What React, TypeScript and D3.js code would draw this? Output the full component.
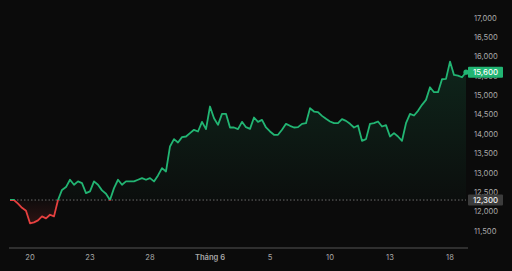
import React from "react";
import * as d3 from "d3";

const prices: number[] = [
  12300, 12300, 12205, 12100, 12024, 11700, 11723, 11775, 11878, 11827,
  11920, 11878, 12300, 12560, 12634, 12823, 12695, 12780, 12737, 12480,
  12523, 12780, 12695, 12549, 12463, 12300, 12608, 12823, 12695, 12780,
  12780, 12780, 12823, 12866, 12823, 12866, 12780, 12935, 13124, 13038,
  13683, 13872, 13786, 13923, 13940, 14027, 14113, 14070, 14319, 14130,
  14714, 14413, 14241, 14525, 14525, 14173, 14173, 14130, 14319, 14181,
  14138, 14430, 14319, 14370, 14173, 14070, 13984, 13984, 14113, 14267,
  14216, 14173, 14181, 14267, 14284, 14671, 14585, 14568, 14473, 14396,
  14327, 14284, 14284, 14387, 14344, 14267, 14173, 14224, 13829, 13872,
  14267, 14284, 14327, 14198, 14233, 13940, 14027, 13940, 13829, 14284,
  14525, 14482, 14602, 14757, 14886, 15212, 15084, 15084, 15419, 15427,
  15874, 15530, 15513, 15470, 15600,
];
const baseline = 12300;
const yTicks: number[] = [11500, 12000, 12500, 13000, 13500, 14000, 14500, 15000, 15500, 16000, 16500, 17000];
const xTickIdx: number[] = [5, 20, 35, 50, 65, 80, 95, 110];
const xTickLabels: string[] = ["20", "23", "28", "Tháng 6", "5", "10", "13", "18"];

const W = 512, H = 271;
const GREEN = "#22b573";
const RED = "#e5403f";
const FONT = "Inter, 'Noto Sans', sans-serif";

export default function App() {
  const x = d3.scaleLinear().domain([0, prices.length - 1]).range([10, 466]);
  const y = d3.scaleLinear().domain([11500, 17000]).range([231, 18]);
  const yb = y(baseline);
  const line = d3.line<number>().x((_, i) => x(i)).y((d) => y(d));
  const area = d3.area<number>().x((_, i) => x(i)).y0(yb).y1((d) => y(d));
  const last = prices[prices.length - 1];
  const fmt = d3.format(",");
  const x0 = x(0), x1 = x(prices.length - 1);
  return (
    <div style={{ position: "fixed", left: 0, top: 0, width: W, height: H, background: "#0b0b0b" }}>
      <svg width={W} height={H} style={{ display: "block", fontFamily: FONT }}>
        <defs>
          <clipPath id="above"><rect x={0} y={0} width={W} height={yb} /></clipPath>
          <clipPath id="below"><rect x={0} y={yb} width={W} height={H - yb} /></clipPath>
          <linearGradient id="gFill" x1="0" y1={y(16000)} x2="0" y2={yb} gradientUnits="userSpaceOnUse">
            <stop offset="0" stopColor={GREEN} stopOpacity={0.16} />
            <stop offset="1" stopColor={GREEN} stopOpacity={0.02} />
          </linearGradient>
          <linearGradient id="rFill" x1="0" y1={yb} x2="0" y2={y(11650)} gradientUnits="userSpaceOnUse">
            <stop offset="0" stopColor={RED} stopOpacity={0.02} />
            <stop offset="1" stopColor={RED} stopOpacity={0.16} />
          </linearGradient>
        </defs>
        <rect width={W} height={H} fill="#0b0b0b" />
        <path d={area(prices) || ""} fill="url(#gFill)" clipPath="url(#above)" />
        <path d={area(prices) || ""} fill="url(#rFill)" clipPath="url(#below)" />
        <line x1={x0} x2={x1} y1={yb} y2={yb} stroke="#6a6a6a" strokeWidth={1} strokeDasharray="1.5,2" />
        <path d={line(prices) || ""} fill="none" stroke={GREEN} strokeWidth={1.8} strokeLinejoin="round" clipPath="url(#above)" />
        <path d={line(prices) || ""} fill="none" stroke={RED} strokeWidth={1.8} strokeLinejoin="round" clipPath="url(#below)" />
        <circle cx={x1} cy={y(last)} r={2.6} fill={GREEN} />
        <line x1={9} x2={468} y1={248} y2={248} stroke="#555" strokeWidth={1} />
        {yTicks.map((t) => (
          <text key={t} x={474} y={y(t)} dy="0.35em" fontSize={7.6} fill="#a8a8a8">{fmt(t)}</text>
        ))}
        {xTickIdx.map((ix, k) => (
          <text key={k} x={x(ix)} y={260} textAnchor="middle" fontSize={7.6} fill="#a8a8a8" fontWeight={k === 3 ? 600 : 400}>{xTickLabels[k]}</text>
        ))}
        <rect x={468} y={y(last) - 5.5} width={35} height={11} fill={GREEN} rx={1} />
        <text x={485.5} y={y(last)} dy="0.35em" textAnchor="middle" fontSize={7.8} fill="#fff" fontWeight={500}>{fmt(last)}</text>
        <rect x={468} y={yb - 5.5} width={35} height={11} fill="#3c3c3c" rx={1} />
        <text x={485.5} y={yb} dy="0.35em" textAnchor="middle" fontSize={7.8} fill="#f0f0f0" fontWeight={500}>{fmt(baseline)}</text>
      </svg>
    </div>
  );
}
